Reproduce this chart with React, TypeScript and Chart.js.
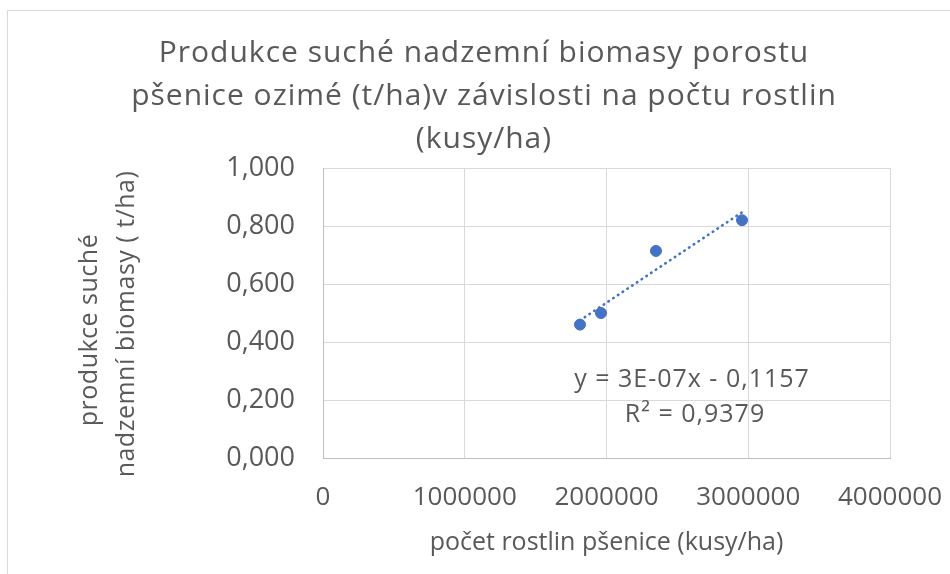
import { useEffect, useRef } from "react";
import { Chart, registerables } from "chart.js";

Chart.register(...registerables);

// ---- data ----
const plantCounts = [1813000, 1961000, 2349000, 2956000];
const biomass = [0.46, 0.5, 0.714, 0.82];
const xTicks = [0, 1000000, 2000000, 3000000, 4000000];
const yTicks = [0, 0.2, 0.4, 0.6, 0.8, 1.0];

const titleLines = [
  "Produkce suché nadzemní biomasy porostu",
  "pšenice ozimé (t/ha)v závislosti na počtu rostlin",
  "(kusy/ha)",
];
const xTitle = "počet rostlin pšenice (kusy/ha)";
const yTitle = ["produkce suché", "nadzemní biomasy ( t/ha)"];
const equationLines = ["y = 3E-07x - 0,1157", "R² = 0,9379"];

const FONT = "'Open Sans', 'Liberation Sans', sans-serif";
const TEXT = "#595959";
const GRID = "#d9d9d9";
const BLUE = "#4472C4";

function linearFit(xs: number[], ys: number[]) {
  const n = xs.length;
  const mx = xs.reduce((a, b) => a + b, 0) / n;
  const my = ys.reduce((a, b) => a + b, 0) / n;
  let sxy = 0;
  let sxx = 0;
  for (let i = 0; i < n; i++) {
    sxy += (xs[i] - mx) * (ys[i] - my);
    sxx += (xs[i] - mx) * (xs[i] - mx);
  }
  const slope = sxy / sxx;
  return { slope, intercept: my - slope * mx };
}

const decorPlugin = {
  id: "decor",
  beforeDraw(chart: any) {
    const ctx = chart.ctx;
    ctx.save();
    ctx.fillStyle = "#ffffff";
    ctx.fillRect(0, 0, chart.width, chart.height);
    ctx.strokeStyle = GRID;
    ctx.lineWidth = 1;
    ctx.beginPath();
    ctx.moveTo(7.5, chart.height);
    ctx.lineTo(7.5, 10.5);
    ctx.lineTo(chart.width, 10.5);
    ctx.stroke();
    ctx.restore();
  },
  afterDraw(chart: any) {
    const ctx = chart.ctx;
    const area = chart.chartArea;
    ctx.save();
    ctx.fillStyle = TEXT;
    ctx.textAlign = "center";
    ctx.textBaseline = "alphabetic";
    ctx.font = `30px ${FONT}`;
    (ctx as any).letterSpacing = "1px";
    const baselines = [62, 105, 148];
    titleLines.forEach((t, i) => ctx.fillText(t, 484, baselines[i]));

    // equation of trendline
    ctx.font = `25px ${FONT}`;
    (ctx as any).letterSpacing = "1px";
    const ex = area.left + 369;
    ctx.fillText(equationLines[0], ex, area.top + 219);
    ctx.fillText(equationLines[1], ex + 3, area.top + 254);

    // y axis title (two rotated lines)
    (ctx as any).letterSpacing = "0.5px";
    ctx.font = `25px ${FONT}`;
    ctx.textBaseline = "middle";
    const midY = (area.top + area.bottom) / 2;
    const ys = [midY + 17, midY + 11];
    const xs = [area.left - 233, area.left - 196];
    yTitle.forEach((t, i) => {
      ctx.save();
      ctx.translate(xs[i], ys[i]);
      ctx.rotate(-Math.PI / 2);
      ctx.fillText(t, 0, 0);
      ctx.restore();
    });
    ctx.restore();
  },
};

export default function App() {
  const ref = useRef<HTMLCanvasElement>(null);
  useEffect(() => {
    const fit = linearFit(plantCounts, biomass);
    const xMin = Math.min(...plantCounts);
    const xMax = Math.max(...plantCounts);
    const trend = [
      { x: xMin, y: fit.slope * xMin + fit.intercept },
      { x: xMax, y: fit.slope * xMax + fit.intercept },
    ];
    const chart = new Chart(ref.current!, {
      type: "scatter",
      data: {
        datasets: [
          {
            label: "data",
            data: plantCounts.map((x, i) => ({ x, y: biomass[i] })),
            backgroundColor: BLUE,
            borderColor: BLUE,
            pointRadius: 5.5,
            pointHoverRadius: 5.5,
            order: 1,
          },
          {
            label: "trend",
            data: trend,
            showLine: true,
            borderColor: BLUE,
            borderWidth: 2.6,
            borderDash: [0.5, 5.2],
            borderCapStyle: "round",
            pointRadius: 0,
            pointHoverRadius: 0,
            fill: false,
            order: 0,
          } as any,
        ],
      },
      options: {
        responsive: false,
        animation: false,
        layout: { padding: { left: 8, top: 168, right: 60, bottom: 14 } },
        plugins: {
          legend: { display: false },
          tooltip: { enabled: false },
          title: { display: false },
        },
        scales: {
          x: {
            type: "linear",
            min: 0,
            max: 4000000,
            afterBuildTicks: (s: any) => {
              s.ticks = xTicks.map((v) => ({ value: v }));
            },
            afterFit: (s: any) => {
              s.height = 102;
              s.paddingLeft = 0;
              s.paddingRight = 0;
            },
            ticks: {
              padding: 24,
              autoSkip: false,
              maxRotation: 0,
              color: TEXT,
              font: { family: FONT, size: 26 },
              callback: (v: any) => String(v),
            },
            grid: { color: GRID, drawTicks: false },
            border: { color: "#bfbfbf" },
            title: {
              display: true,
              text: xTitle,
              color: TEXT,
              font: { family: FONT, size: 25, lineHeight: 1.2 },
              padding: { top: 0, bottom: 2 },
            },
          },
          y: {
            type: "linear",
            min: 0,
            max: 1,
            afterBuildTicks: (s: any) => {
              s.ticks = yTicks.map((v) => ({ value: v }));
            },
            afterFit: (s: any) => {
              s.width = 315;
            },
            ticks: {
              padding: 28,
              color: TEXT,
              font: { family: FONT, size: 27 },
              callback: (v: any) => Number(v).toFixed(3).replace(".", ","),
            },
            grid: { color: GRID, drawTicks: false },
            border: { color: "#bfbfbf" },
          },
        },
      },
      plugins: [decorPlugin],
    });
    return () => chart.destroy();
  }, []);
  return (
    <canvas
      ref={ref}
      width={950}
      height={574}
      style={{ position: "fixed", left: 0, top: 0, display: "block" }}
    />
  );
}
